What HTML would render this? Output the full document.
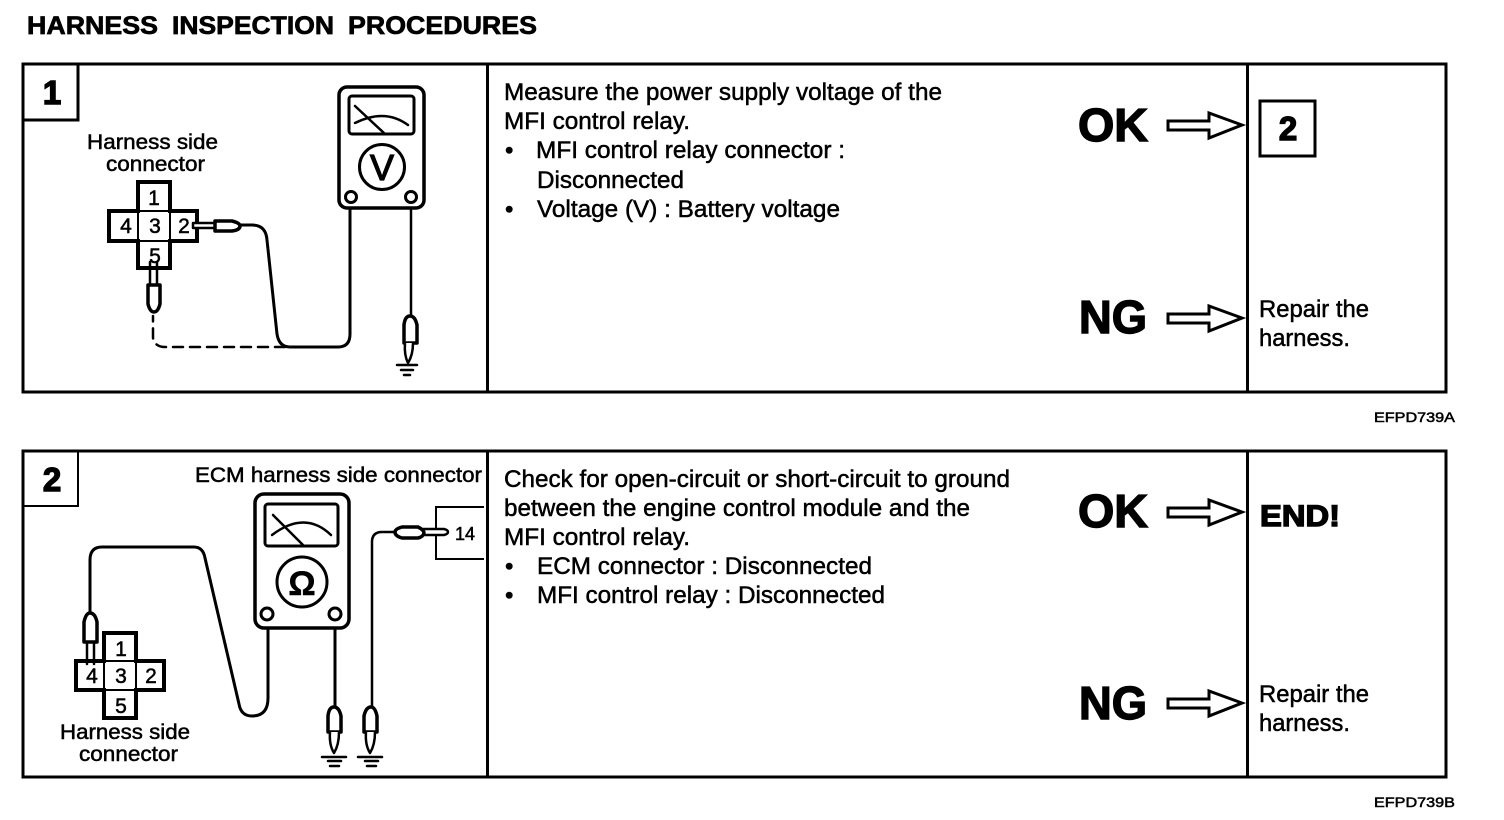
<!DOCTYPE html>
<html><head><meta charset="utf-8"><style>
html,body{margin:0;padding:0;background:#fff}
svg{display:block}
text{font-family:"Liberation Sans",sans-serif;fill:#000;stroke:#000;stroke-width:.5}
.b{font-size:24px}.c{font-size:21px}.h{font-weight:bold;stroke-width:.7}
.k{font-weight:bold;stroke-width:1.4}
.l{fill:none;stroke:#000;stroke-width:2.500;stroke-linejoin:round;stroke-linecap:round}
.t{fill:none;stroke:#000;stroke-width:3}
.x{fill:none;stroke:#000;stroke-width:4}
.f{fill:#fff;stroke:#000;stroke-width:3.500;stroke-linejoin:round}
.a{fill:#fff;stroke:#000;stroke-width:3;stroke-linejoin:miter}
</style></head><body>
<svg xmlns="http://www.w3.org/2000/svg" width="1504" height="820" viewBox="0 0 1504 820">
<rect width="1504" height="820" fill="#fff"/>
<text x="27" y="34" class="h" font-size="25" textLength="131" lengthAdjust="spacingAndGlyphs">HARNESS</text>
<text x="172" y="34" class="h" font-size="25" textLength="162" lengthAdjust="spacingAndGlyphs">INSPECTION</text>
<text x="348" y="34" class="h" font-size="25" textLength="189" lengthAdjust="spacingAndGlyphs">PROCEDURES</text>

<!-- Panel 1 -->
<rect x="23" y="64" width="1423" height="328" class="t"/>
<path d="M487.500 64V392M1247.500 64V392" class="t"/>
<path d="M78 64V120H23" class="t"/>
<text x="52" y="104" class="k" font-size="33" text-anchor="middle">1</text>
<text x="87" y="149" class="c" textLength="131" lengthAdjust="spacingAndGlyphs">Harness side</text>
<text x="106" y="171" class="c" textLength="99" lengthAdjust="spacingAndGlyphs">connector</text>
<path d="M138 182H170V211H197V241H170V268H138V241H109V211H138Z" class="x"/>
<path d="M138 211V241M170 211V241M138 211H170M138 241H170" fill="none" stroke="#000" stroke-width="2"/>
<text x="154" y="205" class="c" text-anchor="middle">1</text>
<text x="126" y="233" class="c" text-anchor="middle">4</text>
<text x="155" y="233" class="c" text-anchor="middle">3</text>
<text x="184" y="233" class="c" text-anchor="middle">2</text>
<text x="155" y="263" class="c" text-anchor="middle">5</text>
<!-- meter 1 -->
<rect x="339" y="87" width="85" height="121" rx="8" class="f"/>
<rect x="349" y="96" width="65" height="38" rx="3" class="f" style="stroke-width:3"/>
<path d="M355 106L385 134M355 123Q385 108 408 125" class="l"/>
<circle cx="382" cy="167" r="22.500" fill="#fff" stroke="#000" stroke-width="3"/>
<text x="382" y="180" font-size="36" text-anchor="middle" style="stroke-width:1.200">V</text>
<circle cx="351" cy="197" r="5.500" fill="#fff" stroke="#000" stroke-width="3"/>
<circle cx="411" cy="197" r="5.500" fill="#fff" stroke="#000" stroke-width="3"/>
<!-- wires 1 -->
<path d="M350 208V334Q350 347 338 347H290Q279 347 277 334L267 240Q266 225 252 225H240" class="l" style="stroke-width:3"/>
<path d="M285 347H165Q155 347 153 338V316" class="l" stroke-dasharray="10 7"/>
<path d="M193 223H215V228H193Z" class="f" style="stroke-width:2.500"/>
<path d="M215 221H232Q240 223 240 226Q240 230 232 231H215Z" class="f"/>
<path d="M150 262V285M157 262V285" class="l"/>
<path d="M148 285H160V304Q158 312 154 312Q150 312 148 304Z" class="f"/>
<path d="M411 208V316" class="l"/>
<path d="M404 343V325Q405 316 410 316Q415 316 417 325V343Z" class="f"/>
<path d="M405 343Q404 355 408 363Q413 355 413 343" class="f" style="stroke-width:2.500"/>
<path d="M397 365H417M401 370H413M404 375H410" class="l"/>

<text x="504" y="100" class="b" textLength="438" lengthAdjust="spacingAndGlyphs">Measure the power supply voltage of the</text>
<text x="504" y="129" class="b" textLength="186" lengthAdjust="spacingAndGlyphs">MFI control relay.</text>
<text x="505" y="158" class="b">•</text>
<text x="536" y="158" class="b" textLength="309" lengthAdjust="spacingAndGlyphs">MFI control relay connector :</text>
<text x="537" y="188" class="b" textLength="147" lengthAdjust="spacingAndGlyphs">Disconnected</text>
<text x="505" y="217" class="b">•</text>
<text x="537" y="217" class="b" textLength="303" lengthAdjust="spacingAndGlyphs">Voltage (V) : Battery voltage</text>

<text x="1078" y="141" class="k" font-size="46" textLength="70" lengthAdjust="spacingAndGlyphs">OK</text>
<text x="1079" y="333" class="k" font-size="46" textLength="68" lengthAdjust="spacingAndGlyphs">NG</text>
<path d="M1168 121H1209V113L1242 125L1209 138V130H1168Z" class="a"/>
<path d="M1168 314H1209V306L1242 318L1209 331V323H1168Z" class="a"/>
<rect x="1260" y="101" width="55" height="55" class="t"/>
<text x="1288" y="140" class="k" font-size="33" text-anchor="middle">2</text>
<text x="1259" y="317" class="b" textLength="110" lengthAdjust="spacingAndGlyphs">Repair the</text>
<text x="1259" y="346" class="b" textLength="91" lengthAdjust="spacingAndGlyphs">harness.</text>
<text x="1374" y="422" font-size="13.500" textLength="81" lengthAdjust="spacingAndGlyphs">EFPD739A</text>

<!-- Panel 2 -->
<rect x="23" y="451" width="1423" height="326" class="t"/>
<path d="M487.500 451V777M1247.500 451V777" class="t"/>
<path d="M78 451V506H23" stroke="#000" stroke-width="2" fill="none"/>
<text x="52" y="491" class="k" font-size="33" text-anchor="middle">2</text>
<text x="195" y="482" class="c" textLength="287" lengthAdjust="spacingAndGlyphs">ECM harness side connector</text>
<path d="M104 633H136V661H164V690H136V718H104V690H76V661H104Z" class="x"/>
<path d="M104 661V690M136 661V690M104 661H136M104 690H136" fill="none" stroke="#000" stroke-width="2"/>
<text x="121" y="656" class="c" text-anchor="middle">1</text>
<text x="92" y="683" class="c" text-anchor="middle">4</text>
<text x="121" y="683" class="c" text-anchor="middle">3</text>
<text x="151" y="683" class="c" text-anchor="middle">2</text>
<text x="121" y="713" class="c" text-anchor="middle">5</text>
<text x="60" y="739" class="c" textLength="130" lengthAdjust="spacingAndGlyphs">Harness side</text>
<text x="79" y="761" class="c" textLength="99" lengthAdjust="spacingAndGlyphs">connector</text>
<!-- meter 2 -->
<rect x="255" y="494" width="94" height="134" rx="9" class="f"/>
<rect x="265" y="504" width="73" height="42" rx="3" class="f" style="stroke-width:3"/>
<path d="M273 515L304 546M272 535Q305 510 331 535" class="l"/>
<circle cx="302" cy="582" r="25" fill="#fff" stroke="#000" stroke-width="3"/>
<text x="302" y="595" font-size="34" text-anchor="middle" style="font-weight:bold">Ω</text>
<circle cx="267" cy="614" r="6" fill="#fff" stroke="#000" stroke-width="3"/>
<circle cx="335" cy="614" r="6" fill="#fff" stroke="#000" stroke-width="3"/>
<!-- wires 2 -->
<path d="M268 628V698Q268 716 252 716Q241 716 239 704L205 558Q203 547 194 547H102Q90 547 90 560V613" class="l" style="stroke-width:3"/>
<path d="M87 642V664M94 642V664" class="l"/>
<path d="M84 642V622Q86 613 90 613Q95 613 97 622V642Z" class="f"/>
<path d="M335 628V707" class="l" style="stroke-width:3"/>
<path d="M328 732V716Q329 707 334 707Q339 707 341 716V732Z" class="f"/>
<path d="M330 732Q329 745 334 753Q339 745 339 732" class="f" style="stroke-width:2.500"/>
<path d="M322 757H346M328 761H341M330 766H339" class="l"/>
<path d="M372 706V542Q372 532 382 532H395" class="l"/>
<path d="M364 732V716Q366 707 371 707Q375 707 377 716V732Z" class="f"/>
<path d="M366 732Q365 745 370 753Q375 745 375 732" class="f" style="stroke-width:2.500"/>
<path d="M358 757H382M365 761H378M367 766H376" class="l"/>
<path d="M484 507H436V559H484" fill="none" stroke="#000" stroke-width="2"/>
<path d="M423 529H444Q448 530 448 532Q448 534 444 535H423Z" class="f" style="stroke-width:2.500"/>
<path d="M402 527H418Q424 530 424 533Q423 537 418 538H402Q395 536 395 532Q395 529 402 527Z" class="f"/>
<text x="465" y="540" font-size="18" text-anchor="middle">14</text>

<text x="504" y="487" class="b" textLength="506" lengthAdjust="spacingAndGlyphs">Check for open-circuit or short-circuit to ground</text>
<text x="504" y="516" class="b" textLength="466" lengthAdjust="spacingAndGlyphs">between the engine control module and the</text>
<text x="504" y="545" class="b" textLength="186" lengthAdjust="spacingAndGlyphs">MFI control relay.</text>
<text x="505" y="574" class="b">•</text>
<text x="537" y="574" class="b" textLength="335" lengthAdjust="spacingAndGlyphs">ECM connector : Disconnected</text>
<text x="505" y="603" class="b">•</text>
<text x="537" y="603" class="b" textLength="348" lengthAdjust="spacingAndGlyphs">MFI control relay : Disconnected</text>

<text x="1078" y="527" class="k" font-size="46" textLength="70" lengthAdjust="spacingAndGlyphs">OK</text>
<text x="1079" y="719" class="k" font-size="46" textLength="68" lengthAdjust="spacingAndGlyphs">NG</text>
<path d="M1168 508H1209V500L1242 512L1209 525V517H1168Z" class="a"/>
<path d="M1168 699H1209V691L1242 703L1209 716V708H1168Z" class="a"/>
<text x="1260" y="526" class="k" font-size="30" textLength="80" lengthAdjust="spacingAndGlyphs">END!</text>
<text x="1259" y="702" class="b" textLength="110" lengthAdjust="spacingAndGlyphs">Repair the</text>
<text x="1259" y="731" class="b" textLength="91" lengthAdjust="spacingAndGlyphs">harness.</text>
<text x="1374" y="422" font-size="0"></text>
<text x="1374" y="807" font-size="13.500" textLength="81" lengthAdjust="spacingAndGlyphs">EFPD739B</text>
</svg>
</body></html>
